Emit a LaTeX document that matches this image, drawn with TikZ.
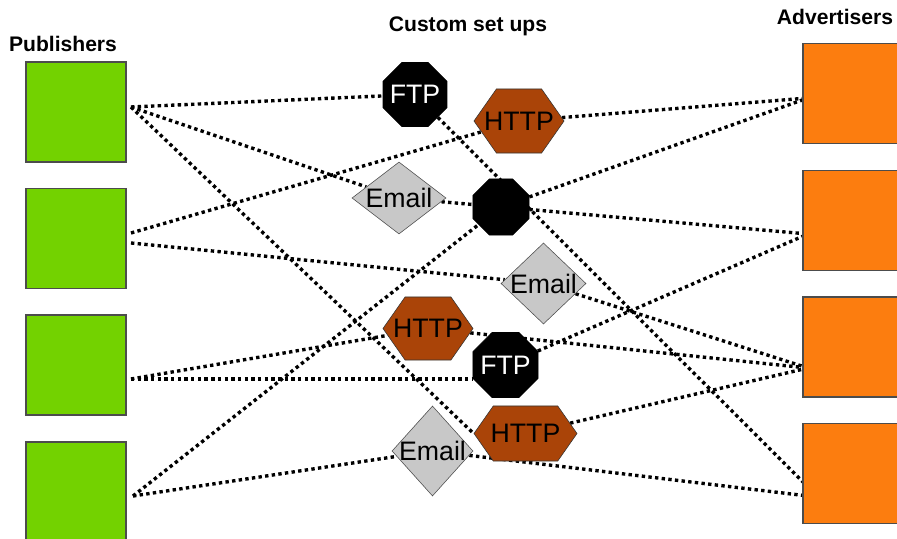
\documentclass[tikz,border=0pt]{standalone}
\usepackage{fontspec}
\setmainfont{Liberation Sans}
\usetikzlibrary{shapes.geometric,shapes.symbols,backgrounds}
\definecolor{pubgreen}{RGB}{115,210,0}
\definecolor{advorange}{RGB}{252,125,15}
\definecolor{httpbrown}{RGB}{170,68,8}
\definecolor{mailgray}{RGB}{200,200,200}
\begin{document}
\begin{tikzpicture}[
    x=0.025cm, y=-0.025cm,
    head/.style={font=\fontsize{15}{18}\selectfont\bfseries},
    pub/.style={draw=black!70, line width=0.8pt, fill=pubgreen, minimum size=2.5cm, inner sep=0pt},
    adv/.style={draw=black!70, line width=0.8pt, fill=advorange, minimum size=2.5cm, inner sep=0pt},
    mid/.style={inner sep=0pt, font=\fontsize{19}{22}\selectfont},
    ftp/.style={mid, regular polygon, regular polygon sides=8, fill=black, draw=black, text=white, minimum size=1.73cm},
    http/.style={mid, signal, signal to=west and east, signal pointer angle=110, fill=httpbrown, draw=black!80, minimum width=2.25cm, minimum height=1.6cm},
    mail/.style={mid, diamond, fill=mailgray, draw=black!70},
    link/.style={line width=2.4pt, dash pattern=on 2.4pt off 2.35pt}
]
    \useasboundingbox (0,0) rectangle (897,539);

    \node[head] (pubs) at (63,44) {Publishers};
    \node[head] (mids) at (468,26) {Custom set ups};
    \node[head] (advs) at (835,17) {Advertisers};

    \node[pub] (pub1) at (76,112) {};
    \node[pub] (pub2) at (76,238.5) {};
    \node[pub] (pub3) at (76,365) {};
    \node[pub] (pub4) at (76,492) {};

    \node[adv] (adv1) at (853,93.5) {};
    \node[adv] (adv2) at (853,220.5) {};
    \node[adv] (adv3) at (853,347) {};
    \node[adv] (adv4) at (853,473.5) {};

    \node[ftp] (ftpa) at (415,94.5) {\makebox[0pt]{FTP}};
    \node[http] (httpa) at (519,121) {\makebox[0pt]{HTTP}};
    \node[mail, minimum width=2.35cm, minimum height=1.8cm] (maila) at (399,198) {\makebox[0pt]{Email}};
    \node[ftp, minimum size=1.52cm] (stop) at (501,207) {};
    \node[mail, minimum width=2.125cm, minimum height=2.025cm] (mailb) at (543.5,283.5) {\makebox[0pt]{Email}};
    \node[http, minimum height=1.575cm] (httpb) at (428,328.5) {\makebox[0pt]{HTTP}};
    \node[ftp, minimum size=1.76cm] (ftpb) at (505.5,365) {\makebox[0pt]{FTP}};
    \node[http, minimum width=2.575cm, minimum height=1.375cm] (httpc) at (525.5,433.5) {\makebox[0pt]{HTTP}};
    \node[mail, minimum width=2.025cm, minimum height=2.25cm] (mailc) at (432.5,451) {\makebox[0pt]{Email}};

    \begin{scope}[on background layer]
        \coordinate (pub1o) at (131,107);
        \coordinate (pub2a) at (131,233);
        \coordinate (pub2b) at (131,243);
        \coordinate (pub3o) at (131,379);
        \coordinate (pub4o) at (133,496);
        \coordinate (adv1i) at (808,98);
        \coordinate (adv2i) at (808,234);
        \coordinate (adv3i) at (808,368);
        \coordinate (adv4a) at (808,487);
        \coordinate (adv4b) at (808,496);

        \draw[link] (pub1o) -- (ftpa);
        \draw[link] (pub1o) -- (maila);
        \draw[link] (pub1o) -- (httpc.west);
        \draw[link] (pub2a) -- (httpa);
        \draw[link] (pub2b) -- (mailb);
        \draw[link] (pub3o) -- (httpb);
        \draw[link] (pub3o) -- (pub3o -| ftpb.west);
        \draw[link] (pub4o) -- (stop);
        \draw[link] (pub4o) -- (mailc);
        \draw[link] (maila) -- (stop);
        \draw[link] (ftpa) -- (adv4a);
        \draw[link] (httpa) -- (adv1i);
        \draw[link] (stop) -- (adv1i);
        \draw[link] (stop) -- (adv2i);
        \draw[link] (mailb) -- (adv3i);
        \draw[link] (httpb) -- (adv3i);
        \draw[link] (ftpb) -- (adv2i);
        \draw[link] (httpc) -- (adv3i);
        \draw[link] (mailc) -- (adv4b);
    \end{scope}
\end{tikzpicture}
\end{document}
